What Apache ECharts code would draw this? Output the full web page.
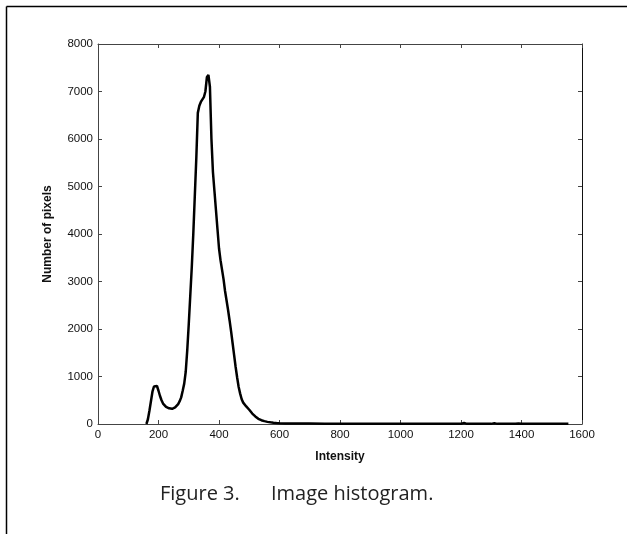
<!DOCTYPE html>
<html>
<head>
<meta charset="utf-8">
<script src="https://cdn.jsdelivr.net/npm/echarts@6/dist/echarts.min.js"></script>
<style>
html,body{margin:0;padding:0;background:#fff;}
#c{width:627px;height:534px;}
</style>
</head>
<body>
<div id="c"></div>
<script>
const intensity = [160,165,170,175,180,185,190,195,200,205,210,215,220,225,230,235,240,245,250,255,260,265,270,275,280,285,290,295,300,305,310,315,320,325,330,335,340,345,350,355,360,365,370,375,380,385,390,395,400,405,410,415,420,425,430,435,440,445,450,455,460,465,470,475,480,490,500,510,520,530,540,550,560,570,580,590,600,620,650,700,750,800,850,900,950,1000,1050,1100,1150,1200,1210,1220,1260,1300,1310,1320,1380,1390,1400,1450,1500,1555];
const pixels = [0,100,280,480,680,790,830,800,700,590,500,430,390,360,340,330,320,320,330,350,380,420,480,560,700,850,1100,1550,2100,2700,3300,4000,4800,5600,6550,6700,6780,6800,6880,7000,7300,7350,7100,6000,5300,4900,4500,4100,3700,3450,3250,3050,2800,2600,2400,2180,1950,1700,1450,1200,980,780,640,520,450,370,300,220,160,110,80,60,45,35,28,22,18,12,10,8,6,6,5,5,4,4,4,4,3,3,20,3,3,3,15,3,3,12,3,3,3,3];
const xTicks = [0,200,400,600,800,1000,1200,1400,1600];
const yTicks = [0,1000,2000,3000,4000,5000,6000,7000,8000];
const xTitle = 'Intensity';
const yTitle = 'Number of pixels';
const caption = 'Figure 3.      Image histogram.';

const seriesData = intensity.map((x,i)=>[x,pixels[i]]);
const axisColor = '#444';
const tickFont = {fontFamily:'Liberation Sans, Arial, sans-serif', fontSize:11.5, color:'#111', formatter:(v)=>String(v)};

const chart = echarts.init(document.getElementById('c'), null, {renderer:'canvas'});
chart.setOption({
  animation:false,
  backgroundColor:'#fff',
  grid:{left:98, top:44, right:45, bottom:110, containLabel:false},
  xAxis:[{
    type:'value', min:xTicks[0], max:xTicks[xTicks.length-1], interval:200, position:'bottom',
    axisLine:{show:true, onZero:false, lineStyle:{color:axisColor, width:1}},
    axisTick:{show:true, inside:true, length:4, lineStyle:{color:axisColor}},
    splitLine:{show:false},
    axisLabel:Object.assign({margin:5}, tickFont),
    name:xTitle, nameLocation:'middle', nameGap:27,
    nameTextStyle:{fontFamily:'Liberation Sans, Arial, sans-serif', fontSize:12, fontWeight:'bold', color:'#111'}
  },{
    type:'value', min:xTicks[0], max:xTicks[xTicks.length-1], interval:200, position:'top',
    axisLine:{show:true, onZero:false, lineStyle:{color:axisColor, width:1}},
    axisTick:{show:true, inside:true, length:4, lineStyle:{color:axisColor}},
    splitLine:{show:false}, axisLabel:{show:false}
  }],
  yAxis:[{
    type:'value', min:yTicks[0], max:yTicks[yTicks.length-1], interval:1000, position:'left',
    axisLine:{show:true, onZero:false, lineStyle:{color:axisColor, width:1}},
    axisTick:{show:true, inside:true, length:4, lineStyle:{color:axisColor}},
    splitLine:{show:false},
    axisLabel:Object.assign({margin:5}, tickFont),
    name:yTitle, nameLocation:'middle', nameGap:44, nameRotate:90,
    nameTextStyle:{fontFamily:'Liberation Sans, Arial, sans-serif', fontSize:12, fontWeight:'bold', color:'#111'}
  },{
    type:'value', min:yTicks[0], max:yTicks[yTicks.length-1], interval:1000, position:'right',
    axisLine:{show:true, onZero:false, lineStyle:{color:'#111', width:1}},
    axisTick:{show:true, inside:true, length:4, lineStyle:{color:axisColor}},
    splitLine:{show:false}, axisLabel:{show:false}
  }],
  series:[{
    type:'line', data:seriesData, xAxisIndex:0, yAxisIndex:0,
    showSymbol:false, smooth:false,
    lineStyle:{color:'#000', width:2.5},
    z:5
  }],
  graphic:[
    {type:'line', shape:{x1:6.5,y1:6.5,x2:627,y2:6.5}, style:{stroke:'#000', lineWidth:1.5}},
    {type:'line', shape:{x1:6.5,y1:6.5,x2:6.5,y2:534}, style:{stroke:'#000', lineWidth:1.5}},
    {type:'text', left:160, top:484, style:{text:caption, font:'20px "Open Sans", "Liberation Sans", sans-serif', fill:'#222'}}
  ]
});
</script>
</body>
</html>
